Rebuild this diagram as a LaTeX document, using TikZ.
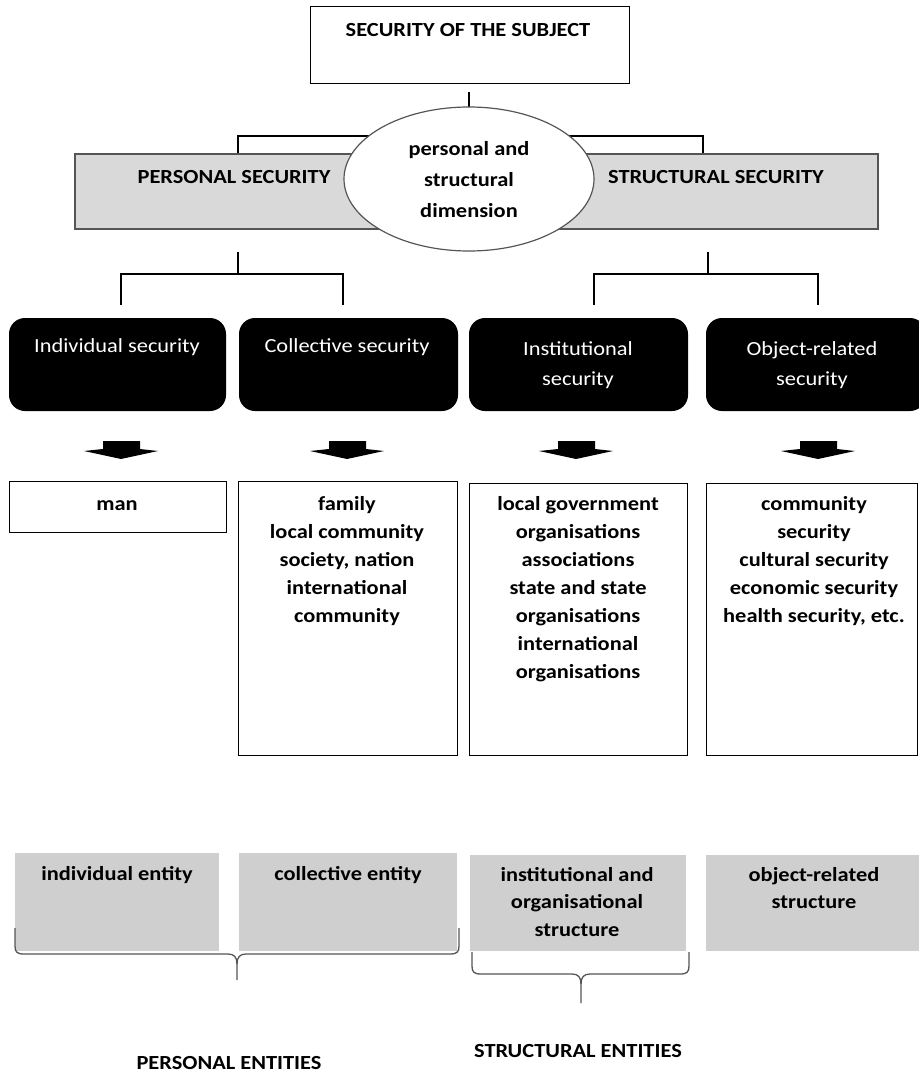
\documentclass[tikz,border=0pt]{standalone}
\usepackage{fontspec}
\setmainfont{Carlito}[FakeStretch=1.12]
\usetikzlibrary{shapes.geometric}
\pgfdeclarelayer{bg}
\pgfsetlayers{bg,main}
\definecolor{bandgray}{RGB}{217,217,217}
\definecolor{boxgray}{RGB}{208,207,208}
\definecolor{edgegray}{RGB}{85,85,85}
\begin{document}
\begin{tikzpicture}[x=1pt,y=-1pt,
  every node/.style={inner sep=0pt, outer sep=0pt},
  lbl/.style={font=\bfseries\fontsize{20}{28}\selectfont, anchor=base, align=center},
  wlbl/.style={font=\fontsize{20}{30}\selectfont, text=white, anchor=base, align=center},
  frame/.style={draw=black, line width=1pt, fill=white, rectangle},
  blk/.style={fill=black, rounded corners=16pt, rectangle},
  gbox/.style={fill=boxgray, rectangle},
  conn/.style={draw=black, line width=1.2pt},
  brace/.style={draw=edgegray, line width=1.3pt},
  downarrow/.pic={\fill[black] (-18,0) -- (19,0) -- (19,8) -- (37,10) -- (0,18) -- (-37,10) -- (-18,8) -- cycle;}
]
\useasboundingbox (0,0) rectangle (918,1073);

% top
\node[frame, minimum width=319pt, minimum height=76pt] (top) at (469.5,45) {};
\node[lbl] (t0) at (468,37) {SECURITY OF THE SUBJECT};

% band and ellipse
\node[rectangle, fill=bandgray, draw=edgegray, line width=1.3pt, minimum width=803pt, minimum height=75pt] (band) at (476.5,191.5) {};
\node[lbl] (tp) at (234,183) {PERSONAL SECURITY};
\node[lbl] (ts) at (716,183) {STRUCTURAL SECURITY};
\node[ellipse, draw=edgegray, fill=white, line width=1.2pt, minimum width=250pt, minimum height=144pt] (ell) at (469,179) {};
\node[lbl, font=\bfseries\fontsize{20}{31}\selectfont] (te) at (469,217) {personal and\\structural\\dimension};

% black boxes
\node[blk, minimum width=217pt, minimum height=93pt] (b1) at (117.5,364.5) {};
\node[blk, minimum width=219pt, minimum height=93pt] (b2) at (348.5,364.5) {};
\node[blk, minimum width=219pt, minimum height=93pt] (b3) at (578.5,364.5) {};
\node[blk, minimum width=220pt, minimum height=93pt] (b4) at (816,364.5) {};
\node[wlbl] (wb1) at (117,352) {Individual security};
\node[wlbl] (wb2) at (347,352) {Collective security};
\node[wlbl] (wb3) at (578,385) {Institutional\\security};
\node[wlbl] (wb4) at (812,385) {Object-related\\security};

% arrows
\pic at (121,441) {downarrow};
\pic at (347,441) {downarrow};
\pic at (576,441) {downarrow};
\pic at (818,441) {downarrow};

% lower boxes
\node[frame, minimum width=217pt, minimum height=51pt] (l1) at (117.5,506.5) {};
\node[frame, minimum width=219pt, minimum height=274pt] (l2) at (347.5,618) {};
\node[frame, minimum width=218pt, minimum height=272pt] (l3) at (578,619) {};
\node[frame, minimum width=211pt, minimum height=272pt] (l4) at (811.5,619) {};
\node[lbl] (tl1) at (117,510) {man};
\node[lbl] (tl2) at (347,622) {family\\local community\\society, nation\\international\\community};
\node[lbl] (tl3) at (578,678) {local government\\organisations\\associations\\state and state\\organisations\\international\\organisations};
\node[lbl] (tl4) at (814,622) {community\\security\\cultural security\\economic security\\health security, etc.};

% gray entity boxes
\node[gbox, minimum width=204pt, minimum height=98pt] (g1) at (117,902) {};
\node[gbox, minimum width=218pt, minimum height=98pt] (g2) at (348,902) {};
\node[gbox, minimum width=216pt, minimum height=96pt] (g3) at (578,903) {};
\node[gbox, minimum width=214pt, minimum height=96pt] (g4) at (813,903) {};
\node[lbl] (tg1) at (117,880) {individual entity};
\node[lbl] (tg2) at (348,880) {collective entity};
\node[lbl, font=\bfseries\fontsize{20}{27.5}\selectfont] (tg3) at (577,936) {institutional and\\organisational\\structure};
\node[lbl, font=\bfseries\fontsize{20}{27.5}\selectfont] (tg4) at (814,908.5) {object-related\\structure};

% braces
\draw[brace] (15,928) -- (15,946) .. controls (15,952) and (17,954) .. (24,954) -- (228,954) .. controls (234,954) and (237,957) .. (237,964) -- (237,980);
\draw[brace] (459,928) -- (459,946) .. controls (459,952) and (457,954) .. (450,954) -- (246,954) .. controls (240,954) and (237,957) .. (237,964);
\draw[brace] (472,952) -- (472,966) .. controls (472,972) and (474,974) .. (481,974) -- (572,974) .. controls (578,974) and (581,977) .. (581,984) -- (581,1003);
\draw[brace] (689,952) -- (689,966) .. controls (689,972) and (687,974) .. (680,974) -- (590,974) .. controls (584,974) and (581,977) .. (581,984);

\node[lbl] (tpe) at (229,1069.5) {PERSONAL ENTITIES};
\node[lbl] (tse) at (578,1057) {STRUCTURAL ENTITIES};

% connectors
\coordinate (c0) at (469,92);
\coordinate (pl) at (238,136);
\coordinate (pr) at (703,136);
\coordinate (ql) at (238,252);
\coordinate (qlh) at (238,274);
\coordinate (qr) at (708,252);
\coordinate (qrh) at (708,274);
\coordinate (e1) at (121,305);
\coordinate (e2) at (343,305);
\coordinate (e3) at (594,305);
\coordinate (e4) at (818,305);
\begin{pgfonlayer}{bg}
\draw[conn] (c0) -- (ell.north);
\draw[conn] (ell.center |- pl) -- (pl) -- (pl |- band.north);
\draw[conn] (ell.center |- pr) -- (pr) -- (pr |- band.north);
\end{pgfonlayer}
\draw[conn] (ql) -- (qlh);
\draw[conn] (e1) -- (e1 |- qlh) -- (e2 |- qlh) -- (e2);
\draw[conn] (qr) -- (qrh);
\draw[conn] (e3) -- (e3 |- qrh) -- (e4 |- qrh) -- (e4);
\end{tikzpicture}
\end{document}
